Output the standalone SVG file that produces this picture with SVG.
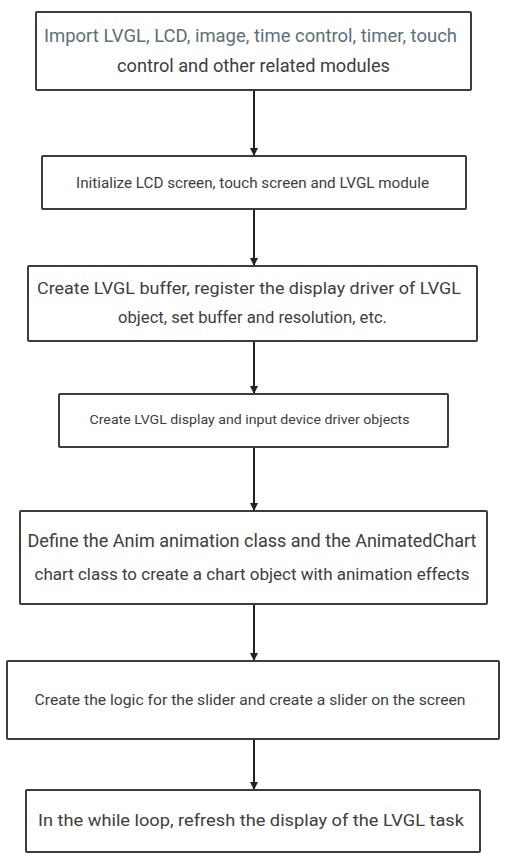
<svg xmlns="http://www.w3.org/2000/svg" width="524" height="860" viewBox="0 0 524 860">
<style>
.box{fill:#ffffff;stroke:#3c3c3c;stroke-width:2}
.t{font-family:Roboto,"Liberation Sans",sans-serif;fill:#3d3d3d;text-anchor:middle}
.c{stroke:#222222;stroke-width:2;fill:none;marker-end:url(#ah)}
</style>
<defs>
<marker id="ah" viewBox="0 0 10 10" refX="10" refY="5" markerWidth="4" markerHeight="4" orient="auto" markerUnits="strokeWidth">
<path d="M0,0 L10,5 L0,10 z" fill="#222222"/>
</marker>
</defs>
<rect width="524" height="860" fill="#ffffff"/>
<g id="connectors">
<line class="c" x1="254" y1="90" x2="254" y2="156"/>
<line class="c" x1="254" y1="209" x2="254" y2="266"/>
<line class="c" x1="254" y1="341" x2="254" y2="394"/>
<line class="c" x1="254" y1="447" x2="254" y2="511"/>
<line class="c" x1="254" y1="604" x2="254" y2="661"/>
<line class="c" x1="254" y1="739" x2="254" y2="790"/>
</g>
<g id="node1">
<rect class="box" x="36" y="12" width="435" height="78" rx="1"/>
<text class="t" x="250.5" y="42" font-size="17.5" style="fill:#5b6f78" textLength="413" lengthAdjust="spacingAndGlyphs">Import LVGL, LCD, image, time control, timer, touch</text>
<text class="t" x="253.5" y="72" font-size="17.5" textLength="273" lengthAdjust="spacingAndGlyphs">control and other related modules</text>
</g>
<g id="node2">
<rect class="box" x="42" y="156" width="424" height="53" rx="1"/>
<text class="t" x="252.5" y="188" font-size="14.5" textLength="353" lengthAdjust="spacingAndGlyphs">Initialize LCD screen, touch screen and LVGL module</text>
</g>
<g id="node3">
<rect class="box" x="28" y="266" width="449" height="75" rx="1"/>
<text class="t" x="249" y="294" font-size="17" textLength="424" lengthAdjust="spacingAndGlyphs">Create LVGL buffer, register the display driver of LVGL</text>
<text class="t" x="252.5" y="323" font-size="16.5" textLength="269" lengthAdjust="spacingAndGlyphs">object, set buffer and resolution, etc.</text>
</g>
<g id="node4">
<rect class="box" x="59" y="394" width="389" height="53" rx="1"/>
<text class="t" x="249.5" y="424" font-size="13.5" textLength="320" lengthAdjust="spacingAndGlyphs">Create LVGL display and input device driver objects</text>
</g>
<g id="node5">
<rect class="box" x="20" y="511" width="467" height="93" rx="1"/>
<text class="t" x="252" y="547" font-size="17.5" textLength="449" lengthAdjust="spacingAndGlyphs">Define the Anim animation class and the AnimatedChart</text>
<text class="t" x="252" y="580" font-size="16.5" textLength="435" lengthAdjust="spacingAndGlyphs">chart class to create a chart object with animation effects</text>
</g>
<g id="node6">
<rect class="box" x="7" y="661" width="492" height="78" rx="1"/>
<text class="t" x="250" y="705" font-size="14.5" textLength="431" lengthAdjust="spacingAndGlyphs">Create the logic for the slider and create a slider on the screen</text>
</g>
<g id="node7">
<rect class="box" x="26" y="790" width="454" height="62" rx="1"/>
<text class="t" x="251" y="826" font-size="17" textLength="426" lengthAdjust="spacingAndGlyphs">In the while loop, refresh the display of the LVGL task</text>
</g>
</svg>
